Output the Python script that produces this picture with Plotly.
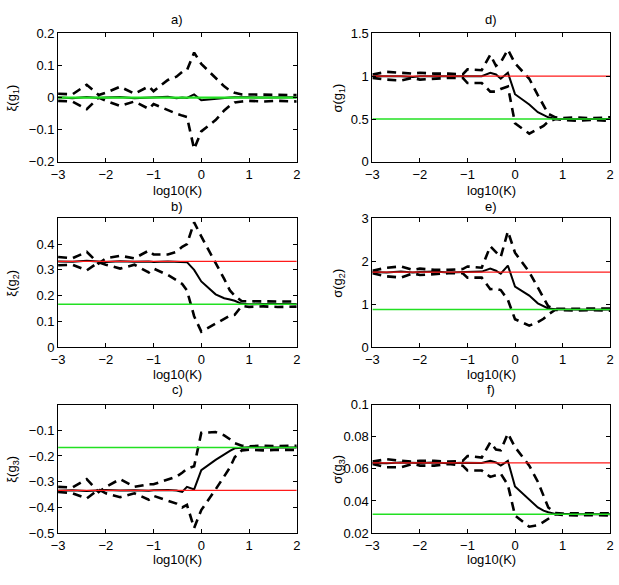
import plotly.graph_objects as go

# log10(K) grid
X = [-3.0, -2.7, -2.4, -2.15, -2.0, -1.7, -1.4, -1.1, -1.0, -0.7, -0.52, -0.4,
     -0.3, -0.15, 0.0, 0.3, 0.48, 0.6, 0.7, 0.85, 1.0, 1.3, 1.6, 2.0]

# a) xi(g1)
A_MED = [0.001, -0.002, 0.002, -0.001, 0.0, 0.002, -0.002, 0.001, 0.0, 0.003, -0.002, 0.0,
         -0.001, 0.01, -0.008, -0.003, -0.001, 0.0, 0.001, 0.0, 0.001, 0.0, 0.0, 0.001]
A_UP = [0.012, 0.01, 0.04, 0.008, 0.015, 0.034, 0.012, 0.035, 0.02, 0.055, 0.065, 0.08,
        0.085, 0.14, 0.105, 0.06, 0.035, 0.022, 0.015, 0.01, 0.01, 0.008, 0.01, 0.008]
A_LO = [-0.01, -0.012, -0.036, 0.0, -0.01, -0.026, -0.012, -0.035, -0.02, -0.04, -0.05, -0.056,
        -0.06, -0.16, -0.105, -0.07, -0.04, -0.025, -0.015, -0.012, -0.01, -0.012, -0.01, -0.012]
# b) xi(g2)
B_MED = [0.333, 0.332, 0.335, 0.333, 0.331, 0.334, 0.332, 0.333, 0.331, 0.333, 0.332, 0.33,
         0.33, 0.30, 0.255, 0.205, 0.19, 0.185, 0.18, 0.168, 0.166, 0.167, 0.166, 0.167]
B_UP = [0.35, 0.345, 0.37, 0.325, 0.345, 0.355, 0.345, 0.375, 0.36, 0.36, 0.37, 0.39,
        0.4, 0.485, 0.43, 0.33, 0.265, 0.22, 0.2, 0.178, 0.178, 0.176, 0.178, 0.177]
B_LO = [0.318, 0.32, 0.298, 0.33, 0.32, 0.305, 0.32, 0.29, 0.305, 0.28, 0.26, 0.245,
        0.22, 0.12, 0.06, 0.09, 0.11, 0.122, 0.125, 0.16, 0.156, 0.158, 0.156, 0.157]
# c) xi(g3)
C_MED = [-0.335, -0.333, -0.336, -0.333, -0.332, -0.334, -0.333, -0.335, -0.333, -0.332, -0.334, -0.34,
         -0.32, -0.33, -0.255, -0.215, -0.192, -0.18, -0.17, -0.167, -0.166, -0.167, -0.167, -0.167]
C_UP = [-0.32, -0.322, -0.29, -0.34, -0.32, -0.29, -0.32, -0.31, -0.31, -0.29, -0.28, -0.265,
        -0.25, -0.24, -0.11, -0.107, -0.12, -0.135, -0.15, -0.16, -0.162, -0.16, -0.162, -0.16]
C_LO = [-0.34, -0.345, -0.365, -0.33, -0.345, -0.36, -0.345, -0.37, -0.355, -0.372, -0.385, -0.40,
        -0.39, -0.48, -0.41, -0.33, -0.28, -0.245, -0.205, -0.178, -0.176, -0.178, -0.176, -0.177]
# d) sigma(g1)
D_MED = [1.0, 1.0, 1.0, 0.99, 1.0, 1.0, 1.0, 1.0, 1.0, 1.0, 1.04, 1.02,
         0.97, 1.04, 0.79, 0.67, 0.58, 0.55, 0.52, 0.5, 0.5, 0.5, 0.5, 0.5]
D_UP = [1.02, 1.05, 1.04, 1.03, 1.04, 1.03, 1.03, 1.02, 1.08, 1.07, 1.25, 1.12,
        1.16, 1.31, 1.15, 0.97, 0.78, 0.65, 0.56, 0.52, 0.51, 0.52, 0.51, 0.52]
D_LO = [0.98, 0.96, 0.95, 0.98, 0.96, 0.97, 0.98, 0.98, 0.92, 0.92, 0.82, 0.82,
        0.85, 0.88, 0.45, 0.33, 0.38, 0.42, 0.47, 0.5, 0.49, 0.48, 0.49, 0.48]
# e) sigma(g2)
E_MED = [1.75, 1.74, 1.76, 1.74, 1.75, 1.76, 1.74, 1.75, 1.75, 1.76, 1.83, 1.78,
         1.71, 1.9, 1.41, 1.2, 1.02, 0.95, 0.9, 0.88, 0.875, 0.875, 0.87, 0.875]
E_UP = [1.78, 1.85, 1.88, 1.8, 1.83, 1.8, 1.8, 1.82, 1.88, 1.85, 2.35, 2.2,
        2.1, 2.7, 2.2, 1.75, 1.4, 1.15, 0.95, 0.89, 0.89, 0.9, 0.89, 0.9]
E_LO = [1.72, 1.65, 1.62, 1.72, 1.68, 1.7, 1.72, 1.72, 1.62, 1.62, 1.35, 1.36,
        1.33, 1.1, 0.65, 0.5, 0.58, 0.66, 0.76, 0.87, 0.86, 0.85, 0.86, 0.85]
# f) sigma(g3)
F_MED = [0.0637, 0.0635, 0.064, 0.0636, 0.0637, 0.064, 0.0635, 0.0638, 0.0637, 0.0636, 0.065, 0.064,
         0.062, 0.065, 0.049, 0.041, 0.036, 0.034, 0.033, 0.032, 0.0318, 0.0318, 0.0317, 0.0318]
F_UP = [0.0645, 0.066, 0.065, 0.0645, 0.065, 0.065, 0.0645, 0.065, 0.068, 0.067, 0.0765, 0.072,
        0.0715, 0.082, 0.0735, 0.062, 0.052, 0.043, 0.036, 0.0325, 0.0322, 0.0324, 0.0322, 0.0324]
F_LO = [0.063, 0.061, 0.061, 0.063, 0.062, 0.062, 0.063, 0.062, 0.059, 0.059, 0.055, 0.056,
        0.057, 0.05, 0.031, 0.024, 0.025, 0.027, 0.029, 0.0318, 0.0313, 0.031, 0.0312, 0.031]

TITLES = ["a)", "b)", "c)", "d)", "e)", "f)"]
YLABELS = ["ξ(g<sub>1</sub>)", "ξ(g<sub>2</sub>)", "ξ(g<sub>3</sub>)",
           "σ(g<sub>1</sub>)", "σ(g<sub>2</sub>)", "σ(g<sub>3</sub>)"]
MEDS = [A_MED, B_MED, C_MED, D_MED, E_MED, F_MED]
UPS = [A_UP, B_UP, C_UP, D_UP, E_UP, F_UP]
LOS = [A_LO, B_LO, C_LO, D_LO, E_LO, F_LO]
RED_REF = [None, 1 / 3, -1 / 3, 1.0, 1.75, 0.0637]
GREEN_REF = [0.0, 1 / 6, -1 / 6, 0.5, 0.875, 0.0318]
YRANGES = [[-0.2, 0.2], [0, 0.5], [-0.5, 0], [0, 1.5], [0, 3], [0.02, 0.1]]
YTICKS = [[-0.2, -0.1, 0, 0.1, 0.2], [0, 0.1, 0.2, 0.3, 0.4], [-0.5, -0.4, -0.3, -0.2, -0.1],
          [0, 0.5, 1, 1.5], [0, 1, 2, 3], [0.02, 0.04, 0.06, 0.08, 0.1]]
XTICKS = [-3, -2, -1, 0, 1, 2]

W, H = 619, 585
COLS_PX = [(52, 295), (372, 614)]
ROWS_PX = [(27, 159), (217, 349), (408, 540)]
TITLE_Y_PX = [13, 205, 393]
XLAB_Y_PX = [188, 377.5, 567]
YLAB_X_PX = [6, 338]

FONT = "Liberation Sans, Arial, sans-serif"
FS = 13

fig = go.Figure()
layout = dict(width=W, height=H, margin=dict(l=0, r=0, t=0, b=0),
              paper_bgcolor="white", plot_bgcolor="white", showlegend=False,
              font=dict(family=FONT, size=FS, color="black"))
annotations = []

for i in range(6):
    col, row = i // 3, i % 3
    n = "" if i == 0 else str(i + 1)
    xa, ya = "x" + n, "y" + n
    x0, x1 = COLS_PX[col]
    yt, yb = ROWS_PX[row]
    common = dict(showline=True, linecolor="black", linewidth=1, mirror="ticks",
                  ticks="inside", ticklen=4, tickcolor="black", showgrid=False,
                  zeroline=False, tickfont=dict(family=FONT, size=FS, color="black"))
    layout["xaxis" + n] = dict(domain=[x0 / W, x1 / W], anchor=ya, range=[-3, 2],
                               tickvals=XTICKS, **common)
    layout["yaxis" + n] = dict(domain=[1 - yb / H, 1 - yt / H], anchor=xa,
                               range=YRANGES[i], tickvals=YTICKS[i], **common)
    dash = "9px,6px"
    fig.add_trace(go.Scatter(x=X, y=MEDS[i], mode="lines", xaxis=xa, yaxis=ya,
                             line=dict(color="black", width=2)))
    fig.add_trace(go.Scatter(x=X, y=UPS[i], mode="lines", xaxis=xa, yaxis=ya,
                             line=dict(color="black", width=2.6, dash=dash)))
    fig.add_trace(go.Scatter(x=X, y=LOS[i], mode="lines", xaxis=xa, yaxis=ya,
                             line=dict(color="black", width=2.6, dash=dash)))
    if RED_REF[i] is not None:
        fig.add_trace(go.Scatter(x=[X[0], X[-1]], y=[RED_REF[i]] * 2, mode="lines",
                                 xaxis=xa, yaxis=ya, line=dict(color="#ff1a1a", width=1.3)))
    fig.add_trace(go.Scatter(x=[X[0], X[-1]], y=[GREEN_REF[i]] * 2, mode="lines",
                             xaxis=xa, yaxis=ya,
                             line=dict(color="#22e022", width=2.2 if i == 0 else 1.5)))
    cx = (x0 + x1) / 2 / W
    annotations.append(dict(text=TITLES[i], x=cx, y=1 - TITLE_Y_PX[row] / H, xref="paper",
                            yref="paper", showarrow=False, xanchor="center", yanchor="middle",
                            font=dict(family=FONT, size=FS)))
    annotations.append(dict(text="log10(K)", x=cx, y=1 - XLAB_Y_PX[row] / H, xref="paper",
                            yref="paper", showarrow=False, xanchor="center", yanchor="middle",
                            font=dict(family=FONT, size=FS)))
    annotations.append(dict(text=YLABELS[i], x=YLAB_X_PX[col] / W, y=1 - (yt + yb) / 2 / H,
                            xref="paper", yref="paper", showarrow=False, textangle=-90,
                            xanchor="center", yanchor="middle", font=dict(family=FONT, size=FS)))

layout["annotations"] = annotations
fig.update_layout(**layout)
fig.write_html("out.html")
